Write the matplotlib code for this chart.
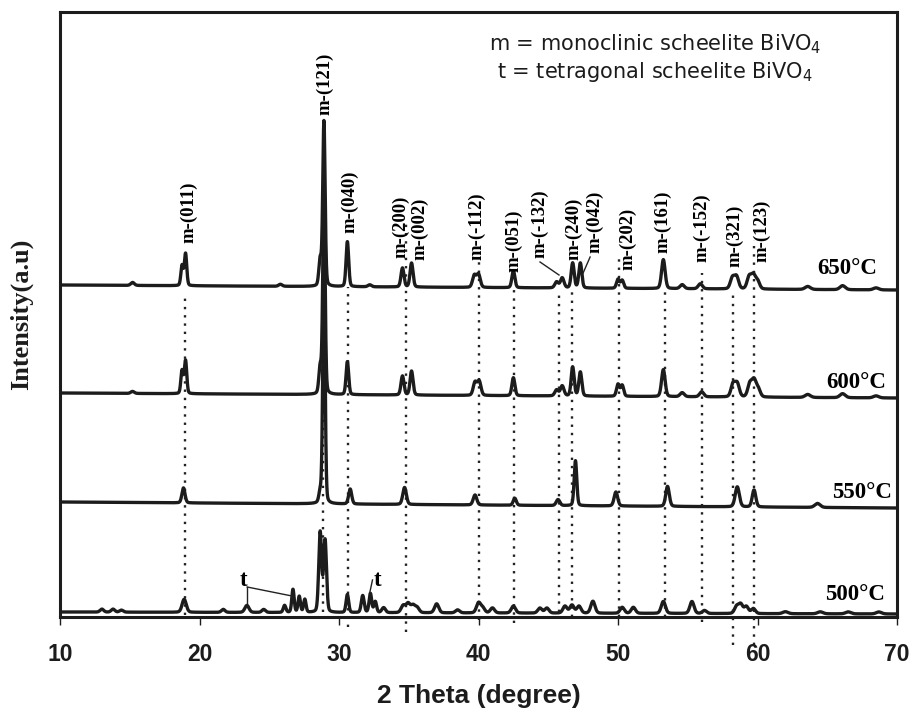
import numpy as np
import matplotlib
matplotlib.use("Agg")
import matplotlib.pyplot as plt

# peak lists: (2theta, height, fwhm); heights in plot units
peaks_650 = [(15.2, 3, 0.3), (18.75, 20, 0.2), (19.0, 32, 0.2), (25.8, 2, 0.3),
             (28.65, 26, 0.22), (28.92, 165, 0.2), (30.6, 45, 0.22), (32.2, 2, 0.3),
             (34.55, 19, 0.25), (35.2, 24, 0.25), (39.7, 12, 0.3), (40.0, 13, 0.3),
             (42.5, 17, 0.25), (45.6, 6, 0.3), (46.0, 10, 0.3), (46.75, 25, 0.25),
             (47.3, 25, 0.25), (50.0, 9, 0.25), (50.3, 8, 0.25), (53.25, 29, 0.3),
             (54.6, 4, 0.35), (55.9, 5, 0.35), (58.2, 11, 0.35), (58.5, 12, 0.35),
             (59.4, 12, 0.35), (59.7, 13, 0.35), (60.0, 8, 0.35), (63.6, 3, 0.45),
             (66.1, 4, 0.45), (68.5, 2, 0.45)]
peaks_600 = [(15.2, 2, 0.3), (18.75, 23, 0.2), (19.0, 33, 0.2), (28.65, 26, 0.22),
             (28.92, 200, 0.2), (30.6, 33, 0.22), (34.55, 19, 0.25), (35.2, 24, 0.25),
             (39.75, 13, 0.3), (40.05, 14, 0.3), (42.5, 18, 0.25), (45.6, 6, 0.3),
             (46.0, 10, 0.3), (46.75, 29, 0.25), (47.3, 24, 0.25), (50.0, 12, 0.25),
             (50.3, 11, 0.25), (53.25, 27, 0.3), (54.6, 4, 0.35), (56.0, 5, 0.35),
             (58.25, 13, 0.35), (58.55, 13, 0.35), (59.45, 13, 0.35), (59.75, 16, 0.35),
             (60.05, 8, 0.35), (63.6, 3, 0.45), (66.1, 4, 0.45), (68.5, 2, 0.45)]
peaks_550 = [(18.85, 15, 0.26), (28.65, 10, 0.22), (28.92, 230, 0.2), (30.8, 15, 0.26),
             (34.7, 17, 0.3), (39.75, 10, 0.3), (42.6, 7, 0.26), (45.7, 6, 0.3),
             (46.95, 45, 0.22), (49.85, 14, 0.3), (53.55, 20, 0.3), (58.55, 20, 0.35),
             (59.75, 17, 0.3), (64.3, 4, 0.45)]
peaks_500 = [(13.0, 3, 0.3), (13.8, 3, 0.3), (14.4, 2, 0.3), (18.9, 13, 0.35),
             (21.7, 3, 0.3), (23.4, 7, 0.35), (24.6, 3, 0.3), (26.1, 7, 0.22),
             (26.7, 23, 0.2), (27.15, 16, 0.2), (27.55, 13, 0.2), (28.65, 80, 0.24),
             (29.0, 72, 0.24), (30.6, 18, 0.22), (31.7, 17, 0.24), (32.25, 19, 0.22),
             (32.6, 11, 0.22), (33.2, 5, 0.3), (34.6, 7, 0.35), (34.95, 9, 0.35),
             (35.3, 7, 0.35), (35.6, 5, 0.35), (37.0, 9, 0.35), (38.5, 3, 0.35),
             (40.0, 10, 0.35), (40.3, 5, 0.35), (41.0, 5, 0.35), (42.5, 7, 0.35),
             (44.4, 5, 0.35), (44.9, 5, 0.35), (46.2, 7, 0.35), (46.7, 8, 0.35),
             (47.2, 7, 0.35), (48.2, 12, 0.35), (50.3, 6, 0.35), (51.1, 6, 0.35),
             (53.25, 12, 0.35), (55.3, 12, 0.35), (56.2, 3, 0.35), (58.5, 7, 0.35),
             (58.8, 9, 0.35), (59.2, 7, 0.35), (59.7, 5, 0.35), (62.0, 2, 0.45),
             (64.5, 2, 0.45), (66.5, 2, 0.45), (68.7, 2, 0.45)]

temps = ["650°C", "600°C", "550°C", "500°C"]
all_peaks = [peaks_650, peaks_600, peaks_550, peaks_500]
base_left = [332, 224, 115, 5]
base_right = [327, 219, 109, 3]
temp_label_pos = [(66.4, 349), (67.1, 234), (67.5, 125), (67.0, 22)]

# hkl labels: text, x, bottom y
hkl_labels = [("m-(011)", 19.2, 374), ("m-(121)", 29.0, 502), ("m-(040)", 30.8, 384),
              ("m-(200)", 34.4, 359), ("m-(002)", 35.8, 357), ("m-(-112)", 39.9, 357),
              ("m-(051)", 42.5, 345), ("m-(-132)", 44.4, 359), ("m-(240)", 46.8, 357),
              ("m-(042)", 48.35, 364), ("m-(202)", 50.7, 347), ("m-(161)", 53.2, 364),
              ("m-(-152)", 56.0, 355), ("m-(321)", 58.4, 350), ("m-(123)", 60.3, 355)]

# dotted reference lines: x, top, bottom
ref_lines = [(18.95, 324, 2), (28.85, 327, 5), (30.65, 330, -10), (34.8, 397, -15),
             (40.0, 357, -3), (42.55, 332, -6), (45.75, 327, 5), (46.7, 327, 0),
             (50.1, 360, 0), (53.35, 327, 0), (56.0, 344, -5), (58.25, 327, -28),
             (59.75, 377, -28)]

x = np.linspace(10, 70, 6001)


def profile(peaks, b0, b1):
    y = b0 + (b1 - b0) * (x - 10) / 60.0
    for c, h, w in peaks:
        g = np.exp(-4 * np.log(2) * ((x - c) / w) ** 2)
        l = 1.0 / (1 + 4 * ((x - c) / w) ** 2)
        y = y + h * (0.8 * g + 0.2 * l)
    return y


fig = plt.figure(figsize=(9.11, 7.10), dpi=100)
ax = fig.add_axes([60 / 911, 1 - 617 / 710, 837 / 911, 605 / 710])

for xv, top, bot in ref_lines:
    ax.plot([xv, xv], [bot, top], color="#222222", lw=1.7, dashes=(1, 2.5),
            clip_on=False, zorder=1)

for pk, b0, b1 in zip(all_peaks, base_left, base_right):
    ax.plot(x, profile(pk, b0, b1), color="#1c1c1c", lw=2.4, zorder=3)

serif = "Liberation Serif"
sans = "Liberation Sans"
for t, (tx, ty) in zip(temps, temp_label_pos):
    ax.text(tx, ty, t, family=serif, weight="bold", fontsize=16.5,
            ha="center", va="center", zorder=4)

for t, tx, ty in hkl_labels:
    ax.text(tx, ty, t, family=serif, weight="bold", fontsize=13.5,
            rotation=90, ha="center", va="bottom", zorder=4)

# leader lines
ax.plot([44.41, 45.77], [355, 342], color="#222222", lw=1.0, zorder=4)
ax.plot([48.0, 47.5], [360, 344], color="#222222", lw=1.0, zorder=4)
ax.text(23.15, 37, "t", family=serif, weight="bold", fontsize=16.5,
        ha="center", va="center", zorder=4)
ax.plot([23.42, 23.42], [30, 14], color="#222222", lw=1.0, zorder=4)
ax.plot([23.42, 26.63], [30, 21], color="#222222", lw=1.0, zorder=4)
ax.text(32.75, 37, "t", family=serif, weight="bold", fontsize=16.5,
        ha="center", va="center", zorder=4)
ax.plot([32.4, 32.2], [37, 24], color="#222222", lw=1.0, zorder=4)

ax.text(52.65, 573, "m = monoclinic scheelite BiVO$_4$", fontsize=15,
        ha="center", va="center", family="DejaVu Sans", color="#1c1c1c")
ax.text(52.65, 545, "t = tetragonal scheelite BiVO$_4$", fontsize=15,
        ha="center", va="center", family="DejaVu Sans", color="#1c1c1c")

ax.set_xlim(10, 70)
ax.set_ylim(0, 605)
ax.set_xticks([10, 20, 30, 40, 50, 60, 70])
ax.set_yticks([])
ax.tick_params(axis="x", direction="out", length=6, width=1.0, pad=13,
               labelsize=16.5, colors="#1c1c1c")
for lab in ax.get_xticklabels():
    lab.set_fontweight("bold")
    lab.set_family(sans)
for sp in ax.spines.values():
    sp.set_linewidth(2.2)
    sp.set_color("#1c1c1c")

ax.set_xlabel("2 Theta (degree)", fontsize=19, fontweight="bold",
              family=sans, labelpad=13, color="#1c1c1c")
ax.set_ylabel("Intensity(a.u)", fontsize=19, fontweight="bold",
              family=serif, labelpad=19, color="#1c1c1c")

fig.savefig("out.png", dpi=100)
